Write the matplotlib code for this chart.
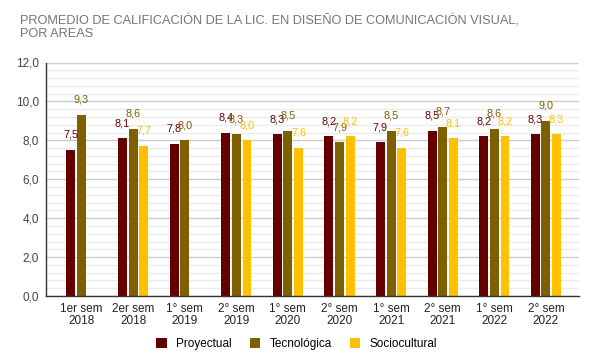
import numpy as np
import matplotlib
matplotlib.use("Agg")
import matplotlib.pyplot as plt
from matplotlib.ticker import MultipleLocator, FuncFormatter

plt.rcParams['font.family'] = ['Liberation Sans', 'DejaVu Sans']

categories = ["1er sem\n2018", "2er sem\n2018", "1° sem\n2019", "2° sem\n2019", "1° sem\n2020",
              "2° sem\n2020", "1° sem\n2021", "2° sem\n2021", "1° sem\n2022", "2° sem\n2022"]
proyectual = [7.5, 8.1, 7.8, 8.4, 8.3, 8.2, 7.9, 8.5, 8.2, 8.3]
tecnologica = [9.3, 8.6, 8.0, 8.3, 8.5, 7.9, 8.5, 8.7, 8.6, 9.0]
sociocultural = [np.nan, 7.7, np.nan, 8.0, 7.6, 8.2, 7.6, 8.1, 8.2, 8.3]
series_names = ["Proyectual", "Tecnológica", "Sociocultural"]
colors = ["#660000", "#7f6000", "#ffc000"]
title = "PROMEDIO DE CALIFICACIÓN DE LA LIC. EN DISEÑO DE COMUNICACIÓN VISUAL,\nPOR AREAS"

W, H = 595, 364
fig = plt.figure(figsize=(W / 100, H / 100), dpi=100)
ax = fig.add_axes([45.7 / W, 1 - 296 / H, (579 - 45.7) / W, (296 - 62.5) / H])

x = np.arange(len(categories))
pitch = 0.207
width = 0.174
series = [proyectual, tecnologica, sociocultural]
for k, (vals, name, col) in enumerate(zip(series, series_names, colors)):
    pos = x + (k - 1) * pitch
    ax.bar(pos, vals, width=width, color=col, label=name, zorder=3)
    for px, v in zip(pos, vals):
        if np.isnan(v):
            continue
        ax.annotate(f"{v:.1f}".replace(".", ","), (px, v), xytext=(0, 11),
                    textcoords="offset points", ha="center", va="center",
                    fontsize=7.8, color=col, zorder=4)

ax.set_xlim(-0.694, 9.641)
ax.set_ylim(0, 12)
ax.yaxis.set_major_locator(MultipleLocator(2))
ax.yaxis.set_minor_locator(MultipleLocator(0.4))
ax.yaxis.set_major_formatter(FuncFormatter(lambda v, p: f"{v:.1f}".replace(".", ",")))
ax.grid(axis="y", which="major", color="#cccccc", linewidth=1, zorder=0)
ax.grid(axis="y", which="minor", color="#ebebeb", linewidth=1, zorder=0)
ax.set_axisbelow(True)

ax.set_xticks(x)
ax.set_xticklabels(categories, fontsize=8.5, color="#222222", linespacing=1.05)
ax.tick_params(axis="x", length=0, pad=5)
ax.tick_params(axis="y", which="both", length=0, pad=5, labelsize=8.5, labelcolor="#444444")

for s in ["top", "right"]:
    ax.spines[s].set_visible(False)
for s in ["left", "bottom"]:
    ax.spines[s].set_color("#333333")
    ax.spines[s].set_linewidth(1)
    ax.spines[s].set_zorder(5)

fig.text(20 / W, 1 - 15 / H, title, ha="left", va="top", fontsize=9.2, color="#757575",
         linespacing=1.05)

fig.legend(loc="center", bbox_to_anchor=(0.4987, 1 - 344 / H), ncol=3, frameon=False,
           fontsize=8.5, handlelength=0.9, handleheight=0.9, handletextpad=0.8,
           columnspacing=1.5, borderaxespad=0)

fig.savefig("out.png", dpi=100, facecolor="white")
